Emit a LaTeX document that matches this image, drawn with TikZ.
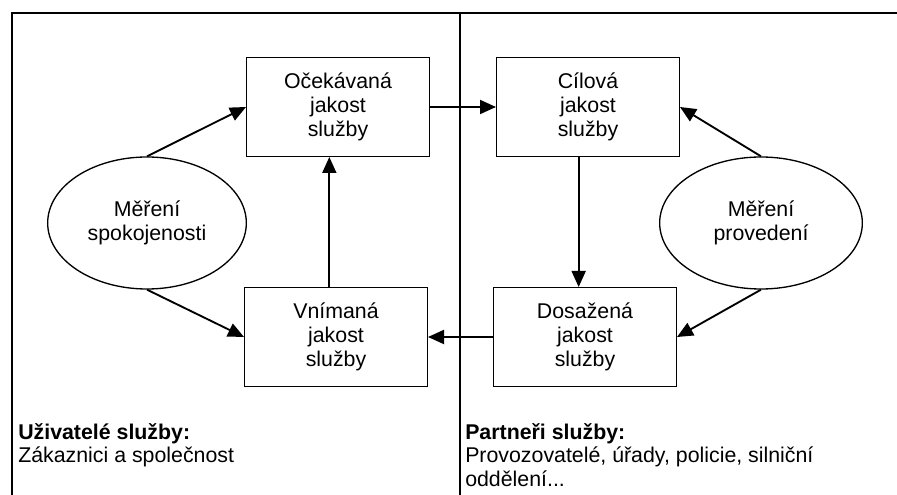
\documentclass[tikz,border=0pt]{standalone}
\usepackage{fontspec}
\setmainfont{Liberation Sans}
\usetikzlibrary{arrows.meta,shapes.geometric}

\begin{document}
\begin{tikzpicture}[x=0.75pt, y=-0.75pt, >={Triangle[length=12pt,width=10.5pt]},
    font=\fontsize{16}{17.8}\selectfont,
    box/.style={draw, line width=1pt, minimum width=137pt, minimum height=74pt, align=center, inner sep=0pt},
    mereni/.style={draw, ellipse, line width=1pt, minimum width=149pt, minimum height=99pt, align=center, inner sep=0pt},
    spoj/.style={->, line width=1.4pt},
    popis/.style={anchor=north west, align=left, inner sep=0pt}]
    \useasboundingbox (0,0) rectangle (897,495);

    % Ramecek a delici cara
    \draw[line width=1pt] (897,13) -- (12,13) -- (12,495);
    \draw[line width=1pt] (460,13) -- (460,495);

    % Jakost sluzby
    \node[box] (ocekavana) at (338,107) {Očekávaná\\jakost\\služby};
    \node[box] (cilova) at (588,107) {Cílová\\jakost\\služby};
    \node[box] (vnimana) at (336,337) {Vnímaná\\jakost\\služby};
    \node[box] (dosazena) at (585,337) {Dosažená\\jakost\\služby};

    % Mereni
    \node[mereni] (spokojenost) at (147,223) {Měření\\spokojenosti};
    \node[mereni, minimum width=152pt] (provedeni) at (761,223) {Měření\\provedení};

    % Sipky
    \draw[spoj] (spokojenost.north) -- (ocekavana.west);
    \draw[spoj] (spokojenost.south) -- (vnimana.west);
    \draw[spoj] ([xshift=-5pt]vnimana.north) -- ([xshift=-5pt]vnimana.north |- ocekavana.south);
    \draw[spoj] (ocekavana.east) -- (cilova.west);
    \draw[spoj] ([xshift=-7pt]cilova.south) -- ([xshift=-7pt]cilova.south |- dosazena.north);
    \draw[spoj] (dosazena.west) -- (vnimana.east);
    \draw[spoj] (provedeni.north) -- (cilova.east);
    \draw[spoj] (provedeni.south) -- (dosazena.east);

    % Uzivatele a partneri
    \node[popis] (uzivatele) at (18,423) {\textbf{Uživatelé služby:}\\Zákaznici a společnost};
    \node[popis] (partneri) at (465,423) {\textbf{Partneři služby:}\\Provozovatelé, úřady, policie, silniční\\oddělení...};
\end{tikzpicture}
\end{document}
